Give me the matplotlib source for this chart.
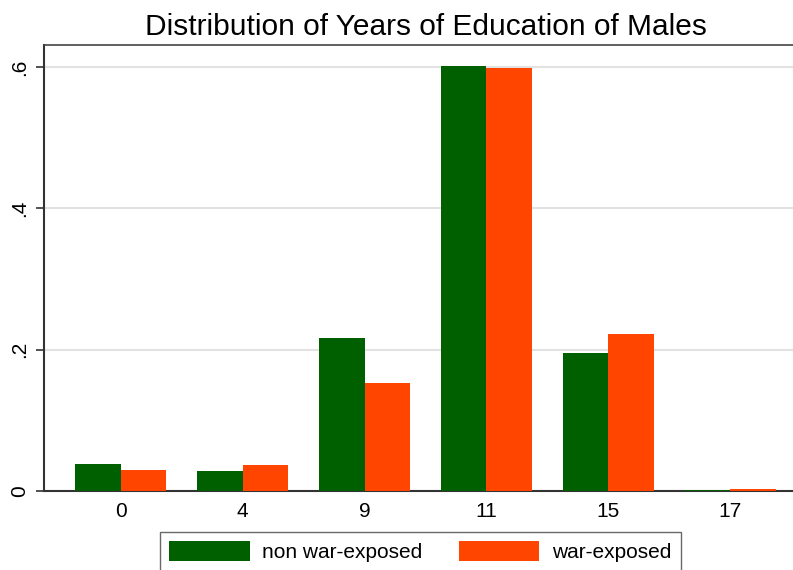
import numpy as np
import matplotlib
matplotlib.use("Agg")
import matplotlib.pyplot as plt

# data
years = ["0", "4", "9", "11", "15", "17"]
non_exposed = [0.038, 0.029, 0.216, 0.601, 0.195, 0.002]
war_exposed = [0.030, 0.037, 0.153, 0.598, 0.222, 0.003]
y_ticks = [0, 0.2, 0.4, 0.6]
y_tick_labels = ["0", ".2", ".4", ".6"]

GREEN = "#006000"
ORANGE = "#ff4500"

plt.rcParams["font.family"] = ["Liberation Sans", "DejaVu Sans"]

fig = plt.figure(figsize=(7.93, 5.70), dpi=100)
# axes run a bit past the right edge of the image, as in the reference
ax = fig.add_axes([44 / 793, 79 / 570, 763 / 793, 446 / 570])

x = np.arange(len(years))
w = 0.375
ax.bar(x - w / 2, non_exposed, width=w, color=GREEN, label="non war-exposed", zorder=3)
ax.bar(x + w / 2, war_exposed, width=w, color=ORANGE, label="war-exposed", zorder=3)

ax.set_xlim(-0.628, len(years) - 1 + 0.628)
ax.set_ylim(0, 0.631)
ax.set_xticks(x)
ax.set_xticklabels(years, fontsize=15)
ax.set_yticks(y_ticks)
ax.set_yticklabels(y_tick_labels, fontsize=15, rotation=90, va="center")
ax.tick_params(axis="x", length=0, pad=8)
ax.tick_params(axis="y", length=6, width=1.2, color="#333333", pad=5)

# light horizontal grid
for v in y_ticks[1:]:
    ax.axhline(v, color="#e2e2e2", lw=1.5, zorder=1)

for s in ["left", "bottom"]:
    ax.spines[s].set_color("#333333")
    ax.spines[s].set_linewidth(1.5)
ax.spines["top"].set_color("#444444")
ax.spines["top"].set_linewidth(1.2)
ax.spines["right"].set_visible(False)

ax.set_title("Distribution of Years of Education of Males", fontsize=21.5, pad=7)

fig.legend(loc="upper left", bbox_to_anchor=(160 / 793, 1 - 532 / 570), ncol=2,
           fontsize=15, frameon=True, fancybox=False, edgecolor="#444444",
           handlelength=3.85, handleheight=1.05, handletextpad=0.62,
           columnspacing=1.75, borderpad=0.45, borderaxespad=0)

fig.savefig("out.png", dpi=100)
